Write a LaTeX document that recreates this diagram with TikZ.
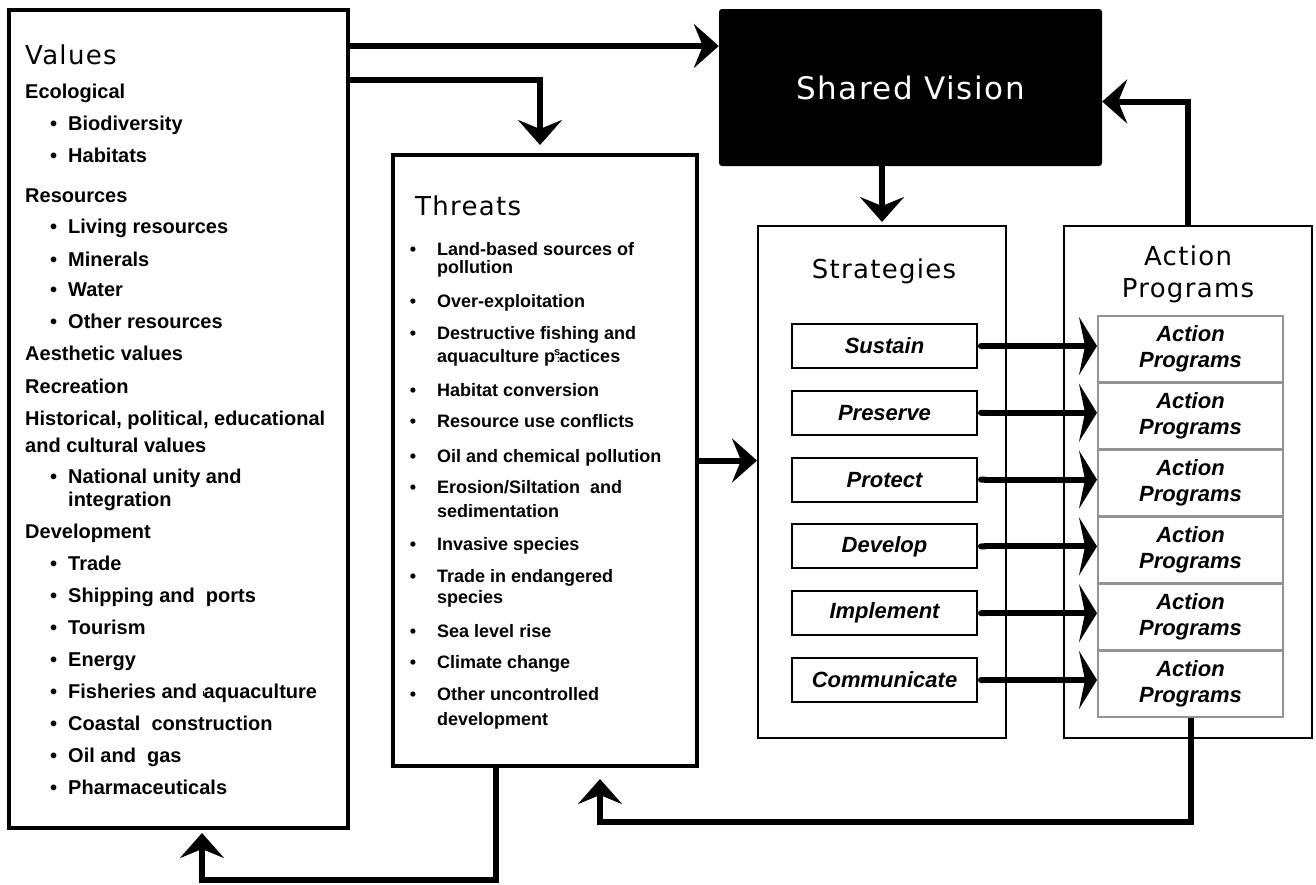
\documentclass[tikz,border=0pt]{standalone}
\usepackage{fontspec}
\setmainfont{Liberation Sans}
\newfontfamily\titlefont[LetterSpace=5]{DejaVu Sans}
\usetikzlibrary{arrows.meta,positioning}

\begin{document}
\begin{tikzpicture}[x=1pt, y=-1pt,
    bigbox/.style={draw, line width=4pt, inner sep=0pt},
    thinbox/.style={draw, line width=2pt, inner sep=0pt},
    stratbox/.style={draw, line width=2pt, fill=white, minimum width=185pt, minimum height=44pt, inner sep=0pt,
      font=\fontsize{22}{26}\selectfont\bfseries\itshape},
    progbox/.style={draw=gray!85, line width=2pt, fill=white, minimum width=185pt, minimum height=66pt, inner sep=0pt,
      align=center, font=\fontsize{22}{26}\selectfont\bfseries\itshape},
    title/.style={inner sep=0pt, font=\titlefont\fontsize{26}{32}\selectfont},
    vitem/.style={anchor=base west, inner sep=0pt, font=\fontsize{20}{24}\selectfont\bfseries},
    titem/.style={anchor=base west, inner sep=0pt, font=\fontsize{18}{22}\selectfont\bfseries},
    flow/.style={line width=6pt, -{Stealth[length=25pt,width=44pt,inset=9pt]}},
    link/.style={line width=6pt, {Round Cap[]}-{Stealth[length=18pt,width=58pt,inset=6pt]}}]
  \useasboundingbox (0,0) rectangle (1316,884);

  % main boxes
  \node[bigbox, minimum width=339pt, minimum height=818pt] (values) at (178.5,419) {};
  \node[bigbox, minimum width=304pt, minimum height=611pt] (threats) at (545,460.5) {};
  \node[fill=black, rounded corners=3pt, minimum width=383pt, minimum height=157pt, text=white,
    font=\titlefont\fontsize{31}{36}\selectfont] (sv) at (910.5,87.5) {Shared Vision};
  \node[thinbox, minimum width=248pt, minimum height=512pt] (strat) at (882,482) {};
  \node[thinbox, minimum width=248pt, minimum height=512pt] (apbox) at (1188,482) {};

  % titles
  \node[title, anchor=base west] (vtitle) at (25,64) {Values};
  \node[title, anchor=base west] (ttitle) at (415,215) {Threats};
  \node[title, anchor=base] (stitle) at (884,278) {Strategies};
  \node[title, align=center] (atitle) at (1188,274) {Action\\Programs};

  % values list
  \foreach \y/\t in {98/Ecological, 202/Resources, 360/Aesthetic values, 393/Recreation,
      425/{Historical, political, educational}, 452/and cultural values, 538/Development}
    \node[vitem] (vh\y) at (25,\y) {\t};
  \foreach \y/\t in {130/Biodiversity, 162/Habitats, 233/Living resources, 266/Minerals,
      296/Water, 328/Other resources, 483/National unity and, 570/Trade,
      602/Shipping and\ \ ports, 634/Tourism, 666/Energy,
      698/Fisheries and \rule[2pt]{1pt}{5pt}aquaculture,
      730/Coastal\ \ construction, 762/Oil and\ \ gas, 794/Pharmaceuticals}
    \node[vitem] (vb\y) at (68,\y) {\llap{\textbullet\hspace{11pt}}\t};
  \node[vitem] (vb506) at (68,506) {integration};

  % threats list
  \foreach \y/\t in {255/Land-based sources of, 307/Over-exploitation, 339/Destructive fishing and,
      396/Habitat conversion, 427/Resource use conflicts, 462/Oil and chemical pollution,
      493/{Erosion/Siltation\ \ and}, 550/Invasive species, 582/Trade in endangered,
      637/Sea level rise, 668/Climate change, 700/Other uncontrolled} {
    \node[titem, anchor=base] (tb\y) at (413,\y) {\textbullet};
    \node[titem] (tt\y) at (437,\y) {\t};
  }
  \foreach \y/\t in {273/pollution, 362/aquaculture p\makebox[4pt]{\raisebox{7pt}{\fontsize{11}{11}\selectfont s}\llap{\fontsize{10}{10}\selectfont :}}actices,
      517/sedimentation, 603/species, 725/development}
    \node[titem] (tt\y) at (437,\y) {\t};

  % strategies and action programs
  \foreach \s [count=\i] in {Sustain,Preserve,Protect,Develop,Implement,Communicate} {
    \node[stratbox] (s\i) at (884.5,{346+66.8*(\i-1)}) {\s};
    \node[progbox] (p\i) at (1190.5,{349+67*(\i-1)}) {Action\\Programs};
  }
  \foreach \i in {1,...,6}
    \draw[link] (s\i.east) -- (s\i.east -| p\i.west);

  % connectors
  \coordinate (fb) at ([xshift=55pt,yshift=-11pt]threats.south);
  \coordinate (vb) at (202,833);
  \draw[flow] (values.east |- 0,46) -- (sv.west |- 0,46);
  \draw[flow] (values.east |- 0,80) -| ([xshift=-5pt,yshift=8pt]threats.north);
  \draw[flow, shorten >=3pt] (sv.south -| strat.north) -- (strat.north);
  \draw[flow] (threats.east) -- (threats.east -| strat.west);
  \draw[flow] (apbox.north) |- ([yshift=-14pt]sv.east);
  \draw[flow] (p6.south) |- (600,822) -- (fb);
  \draw[flow] (threats.south -| 496,0) |- (202,880) -- (vb);
\end{tikzpicture}
\end{document}
